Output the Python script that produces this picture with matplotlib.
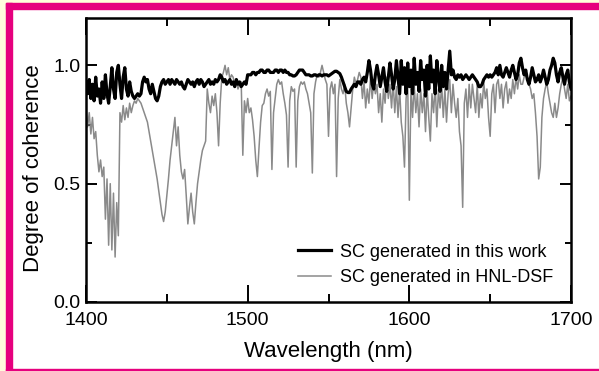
import numpy as np
import matplotlib
matplotlib.use("Agg")
import matplotlib.pyplot as plt
from matplotlib.patches import Rectangle
from matplotlib.ticker import MultipleLocator

plt.rcParams['font.family'] = ['Liberation Sans', 'DejaVu Sans']

# wavelength grid (nm), 1 nm step
wavelength = np.arange(1400, 1701)

# SC generated in this work (black)
coh_this_work = [
    0.93, 0.88, 0.94, 0.86, 0.92, 0.85, 0.95, 0.87, 0.90, 0.84,
    0.93, 0.86, 0.96, 0.88, 0.84, 0.91, 0.99, 0.90, 0.86, 0.97,
    1.00, 0.92, 0.86, 0.95, 0.99, 0.90, 0.87, 0.93, 0.89, 0.87,
    0.86, 0.87, 0.88, 0.87, 0.88, 0.93, 0.95, 0.93, 0.94, 0.90,
    0.88, 0.92, 0.89, 0.86, 0.85, 0.87, 0.91, 0.93, 0.94, 0.92,
    0.93, 0.94, 0.92, 0.94, 0.93, 0.92, 0.94, 0.93, 0.92, 0.93,
    0.91, 0.90, 0.92, 0.94, 0.93, 0.92, 0.93, 0.91, 0.93, 0.94,
    0.92, 0.94, 0.93, 0.91, 0.92, 0.93, 0.94, 0.92, 0.93, 0.92,
    0.94, 0.93, 0.94, 0.96, 0.95, 0.93, 0.94, 0.92, 0.93, 0.94,
    0.92, 0.93, 0.91, 0.94, 0.92, 0.93, 0.91, 0.92, 0.93, 0.92,
    0.96, 0.96, 0.96, 0.97, 0.97, 0.96, 0.97, 0.97, 0.98, 0.98,
    0.97, 0.97, 0.98, 0.98, 0.97, 0.97, 0.97, 0.98, 0.98, 0.97,
    0.98, 0.98, 0.97, 0.98, 0.97, 0.97, 0.96, 0.96, 0.955, 0.955,
    0.96, 0.97, 0.98, 0.98, 0.98, 0.97, 0.96, 0.96, 0.96, 0.955,
    0.955, 0.96, 0.96, 0.955, 0.96, 0.96, 0.955, 0.96, 0.96, 0.96,
    0.955, 0.96, 0.965, 0.97, 0.975, 0.975, 0.97, 0.965, 0.95, 0.93,
    0.91, 0.89, 0.885, 0.885, 0.90, 0.91, 0.92, 0.91, 0.93, 0.93,
    0.92, 0.94, 0.95, 0.93, 0.97, 1.02, 0.98, 0.92, 0.90, 0.96,
    1.00, 0.96, 0.91, 0.95, 0.99, 0.93, 0.89, 0.95, 1.01, 0.96,
    0.90, 0.94, 1.02, 0.95, 0.88, 1.02, 0.92, 0.99, 0.88, 1.01,
    0.91, 0.98, 0.88, 1.03, 0.92, 0.97, 0.89, 1.02, 0.94, 0.98,
    0.87, 1.00, 0.90, 1.04, 0.93, 0.98, 0.88, 1.02, 0.95, 0.89,
    1.00, 0.91, 0.97, 0.90, 0.98, 1.06, 0.96, 0.98, 0.95, 0.94,
    0.96, 0.95, 0.96, 0.94, 0.95, 0.96, 0.95, 0.94, 0.95, 0.96,
    0.95, 0.94, 0.93, 0.91, 0.91, 0.92, 0.94, 0.95, 0.96, 0.95,
    0.96, 0.95, 0.96, 0.97, 0.99, 0.96, 1.00, 0.96, 0.95, 0.97,
    0.99, 0.97, 0.95, 0.98, 1.00, 0.97, 0.94, 0.96, 1.01, 1.03,
    0.99, 0.96, 0.98, 0.94, 0.92, 0.95, 0.99, 0.96, 0.93, 0.94,
    0.96, 0.93, 0.95, 0.98, 0.95, 0.92, 0.94, 0.98, 1.00, 1.03,
    1.01, 0.96, 0.93, 0.97, 0.99, 0.95, 0.92, 0.96, 0.98, 0.93,
    0.90,
]

# SC generated in HNL-DSF (gray)
coh_hnl_dsf = [
    0.82, 0.74, 0.80, 0.71, 0.78, 0.69, 0.72, 0.62, 0.55, 0.60,
    0.53, 0.57, 0.35, 0.52, 0.24, 0.50, 0.22, 0.46, 0.19, 0.42,
    0.28, 0.80, 0.76, 0.83, 0.77, 0.82, 0.78, 0.84, 0.80, 0.83,
    0.85, 0.84, 0.86, 0.85, 0.84, 0.82, 0.80, 0.78, 0.76, 0.72,
    0.68, 0.64, 0.60, 0.56, 0.52, 0.47, 0.42, 0.37, 0.34, 0.38,
    0.45, 0.52, 0.60, 0.66, 0.72, 0.78, 0.66, 0.74, 0.62, 0.55,
    0.52, 0.56, 0.45, 0.33, 0.40, 0.46, 0.38, 0.33, 0.42, 0.50,
    0.55, 0.60, 0.64, 0.66, 0.68, 0.90, 0.84, 0.80, 0.87, 0.83,
    0.88, 0.80, 0.66, 0.84, 0.95, 0.97, 1.00, 0.96, 0.99, 0.94,
    0.96, 0.95, 0.92, 0.94, 0.90, 0.92, 0.93, 0.62, 0.85, 0.80,
    0.86, 0.80, 0.82, 0.77, 0.70, 0.60, 0.53, 0.65, 0.76, 0.83,
    0.84, 0.88, 0.90, 0.87, 0.89, 0.56, 0.80, 0.86, 0.92, 0.94,
    0.92, 0.93, 0.88, 0.84, 0.79, 0.57, 0.85, 0.91, 0.89, 0.90,
    0.57, 0.85, 0.91, 0.93, 0.92, 0.93, 0.90, 0.88, 0.84, 0.80,
    0.545, 0.88, 0.93, 0.96, 0.95, 0.97, 1.00, 0.97, 0.94, 0.92,
    0.70, 0.90, 0.93, 0.88, 0.92, 0.53, 0.86, 0.94, 0.90, 0.88,
    0.92, 0.84, 0.80, 0.74, 0.82, 0.90, 0.95, 0.92, 0.94, 0.97,
    0.95, 0.86, 0.93, 0.82, 0.90, 0.84, 0.95, 0.86, 0.93, 0.88,
    0.92, 0.80, 0.88, 0.76, 0.90, 0.84, 0.95, 0.86, 0.92, 0.82,
    0.93, 0.80, 0.91, 0.78, 0.90, 0.76, 0.70, 0.57, 0.86, 0.92,
    0.43, 0.90, 0.78, 0.92, 0.80, 0.88, 0.74, 0.90, 0.80, 0.88,
    0.72, 0.90, 0.78, 0.68, 0.88, 0.80, 0.92, 0.74, 0.90, 0.82,
    0.92, 0.78, 0.90, 0.76, 0.88, 0.94, 0.80, 0.92, 0.84, 0.78,
    0.86, 0.72, 0.66, 0.40, 0.84, 0.90, 0.78, 0.92, 0.82, 0.92,
    0.86, 0.80, 0.92, 0.78, 0.88, 0.82, 0.93, 0.86, 0.90, 0.78,
    0.70, 0.88, 0.92, 0.80, 0.92, 0.94, 0.86, 0.92, 0.82, 0.90,
    0.93, 0.84, 0.90, 0.86, 0.94, 0.88, 0.95, 0.90, 0.96, 0.92,
    0.92, 0.95, 0.96, 0.94, 0.92, 0.90, 0.86, 0.88, 0.80, 0.70,
    0.52, 0.57, 0.78, 0.86, 0.90, 0.93, 0.88, 0.84, 0.80, 0.78,
    0.84, 0.78, 0.82, 0.88, 0.92, 0.95, 0.90, 0.86, 0.92, 0.85,
    0.87,
]

series_labels = ["SC generated in this work", "SC generated in HNL-DSF"]
x_ticks = [1400, 1500, 1600, 1700]
y_ticks = [0.0, 0.5, 1.0]

W, H = 599, 371
fig = plt.figure(figsize=(W / 100, H / 100), dpi=100)
fig.patch.set_facecolor('white')

# decorative frame (yellow margin + magenta border)
yellow = '#FFFDDC'
magenta = '#E6007E'
fig.patches.append(Rectangle((0, 0), 6 / W, 1, transform=fig.transFigure, color=yellow, zorder=0))
fig.patches.append(Rectangle((0, 1 - 3 / H), 1, 3 / H, transform=fig.transFigure, color=yellow, zorder=0))
fig.patches.append(Rectangle((6 / W, 0), 6 / W, 1 - 3 / H, transform=fig.transFigure, color=magenta, zorder=1))
fig.patches.append(Rectangle((6 / W, 1 - 9 / H), 1, 6 / H, transform=fig.transFigure, color=magenta, zorder=1))
fig.patches.append(Rectangle((6 / W, 0), 1, 2 / H, transform=fig.transFigure, color=magenta, zorder=1))

ax = fig.add_axes([86 / W, 1 - 302 / H, (571 - 86) / W, (302 - 18) / H])

ax.plot(wavelength, coh_hnl_dsf, color='#8a8a8a', lw=1.1, label=series_labels[1], zorder=2)
ax.plot(wavelength, coh_this_work, color='black', lw=2.3, label=series_labels[0], zorder=3)

ax.set_xlim(1400, 1700)
ax.set_ylim(0, 1.2)
ax.set_xticks(x_ticks)
ax.set_xticklabels([str(t) for t in x_ticks])
ax.set_yticks(y_ticks)
ax.set_yticklabels([f"{t:.1f}" for t in y_ticks])
ax.xaxis.set_minor_locator(MultipleLocator(50))
ax.yaxis.set_minor_locator(MultipleLocator(0.25))

ax.tick_params(axis='x', which='major', direction='in', length=12, width=1.4,
               top=True, bottom=True, labelsize=14, pad=7)
ax.tick_params(axis='x', which='minor', direction='in', length=6, width=1.4,
               top=True, bottom=True)
ax.tick_params(axis='y', which='major', direction='in', length=8, width=1.4,
               left=True, right=True, labelsize=14, pad=4)
ax.tick_params(axis='y', which='minor', direction='in', length=4.5, width=1.4,
               left=True, right=True)
for s in ax.spines.values():
    s.set_linewidth(1.8)

ax.set_xlabel("Wavelength (nm)", fontsize=16, labelpad=9)
ax.set_ylabel("Degree of coherence", fontsize=16, labelpad=7)
ax.yaxis.label.set_y(0.47)

handles, labels = ax.get_legend_handles_labels()
order = [1, 0]
leg = ax.legend([handles[i] for i in order], [labels[i] for i in order],
                loc='upper left', bbox_to_anchor=(0.437, 0.205), frameon=False,
                fontsize=13, handlelength=1.85, handletextpad=0.5,
                labelspacing=0.45, borderpad=0, borderaxespad=0)

fig.savefig("out.png", dpi=100)
